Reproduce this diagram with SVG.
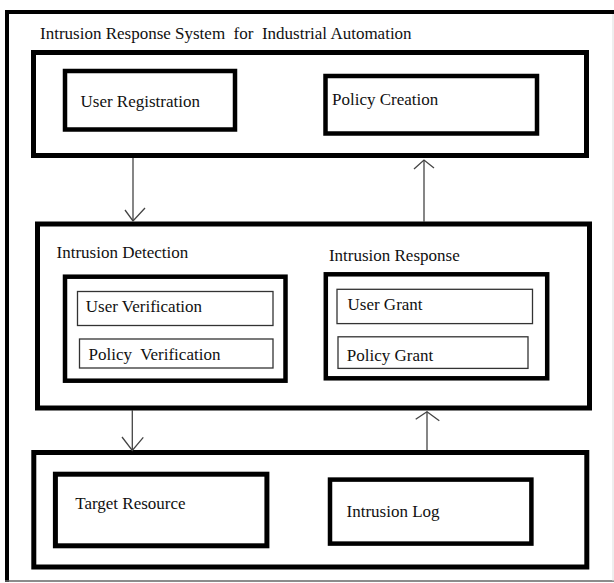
<svg xmlns="http://www.w3.org/2000/svg" width="614" height="583" viewBox="0 0 614 583">
<defs>
<style>
.thick{fill:none;stroke:#000;stroke-width:5}
.mid{fill:none;stroke:#000;stroke-width:4.5}
.thin{fill:none;stroke:#333;stroke-width:1.3}
.conn{fill:none;stroke:#444;stroke-width:1.3}
text{font-family:"Liberation Serif","Times New Roman",serif;font-size:17px;fill:#111;white-space:pre}
</style>
</defs>
<rect width="614" height="583" fill="#fff"/>
<g id="frame">
<line x1="7" y1="10" x2="7" y2="582" stroke="#000" stroke-width="4"/>
<line x1="5" y1="12" x2="614" y2="12" stroke="#000" stroke-width="4"/>
<line x1="5" y1="581" x2="614" y2="581" stroke="#666" stroke-width="1.5"/>
<line x1="613" y1="14" x2="613" y2="581" stroke="#ddd" stroke-width="1"/>
<text x="40" y="39">Intrusion Response System  for  Industrial Automation</text>
</g>
<g id="top-layer">
<rect class="thick" x="33.5" y="52.5" width="553" height="103"/>
<g id="user-registration">
<rect class="mid" x="65" y="71" width="170" height="58.5"/>
<text x="80.5" y="107">User Registration</text>
</g>
<g id="policy-creation">
<rect class="mid" x="325.5" y="76" width="211.5" height="57.5"/>
<text x="332" y="105">Policy Creation</text>
</g>
</g>
<g id="middle-layer">
<rect class="thick" x="37.5" y="224" width="552" height="184"/>
<g id="intrusion-detection">
<text x="56.5" y="258.3">Intrusion Detection</text>
<rect class="mid" x="65" y="276.7" width="220.5" height="104"/>
<g id="user-verification">
<rect class="thin" x="77.5" y="291.5" width="195.5" height="34"/>
<text x="85.8" y="311.7">User Verification</text>
</g>
<g id="policy-verification">
<rect class="thin" x="79.5" y="339" width="193.5" height="29"/>
<text x="88.5" y="360">Policy  Verification</text>
</g>
</g>
<g id="intrusion-response">
<text x="328.9" y="260.7">Intrusion Response</text>
<rect class="mid" x="325.8" y="274.3" width="221.4" height="104"/>
<g id="user-grant">
<rect class="thin" x="337" y="289.3" width="195.5" height="34.3"/>
<text x="347.5" y="310">User Grant</text>
</g>
<g id="policy-grant">
<rect class="thin" x="338" y="336.8" width="190" height="31.6"/>
<text x="346.8" y="360.7">Policy Grant</text>
</g>
</g>
</g>
<g id="bottom-layer">
<rect class="thick" x="33.8" y="452.5" width="553" height="114.5"/>
<g id="target-resource">
<rect class="thick" x="55.4" y="474.2" width="211.5" height="71.6"/>
<text x="75.2" y="509.3">Target Resource</text>
</g>
<g id="intrusion-log">
<rect class="mid" x="330" y="479.6" width="201.4" height="64"/>
<text x="346.5" y="517.3">Intrusion Log</text>
</g>
</g>
<g id="connectors">
<line class="conn" x1="133" y1="158" x2="133" y2="221"/>
<polyline class="conn" points="125,210 133,221 145,208"/>
<line class="conn" x1="424" y1="222" x2="424" y2="160"/>
<polyline class="conn" points="414,169 424,160 434,168"/>
<line class="conn" x1="132.3" y1="410" x2="132.3" y2="450.5"/>
<polyline class="conn" points="122,437 132.3,450.5 143.3,437.3"/>
<line class="conn" x1="427" y1="450" x2="427" y2="411.7"/>
<polyline class="conn" points="415.7,419.3 427,411.7 439.3,420.7"/>
</g>
</svg>
